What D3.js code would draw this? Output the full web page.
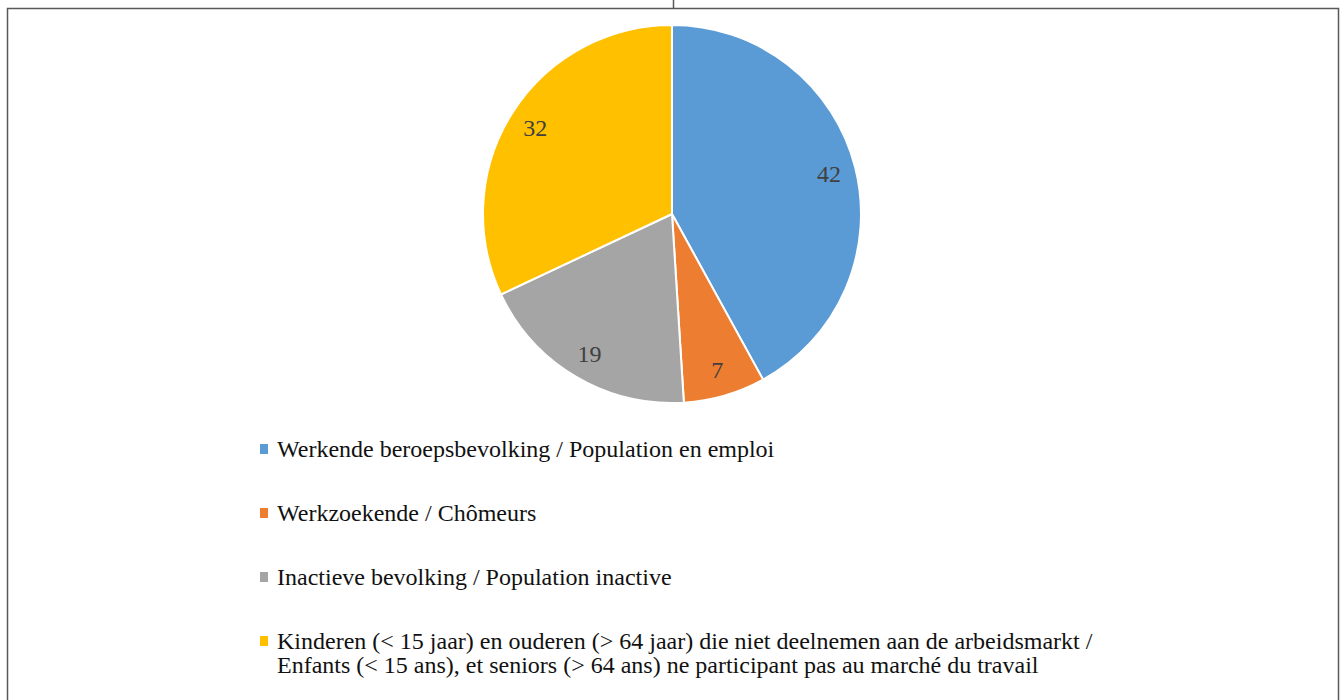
<!DOCTYPE html>
<html>
<head>
<meta charset="utf-8">
<script src="https://cdn.jsdelivr.net/npm/d3@7"></script>
<style>
  body { margin: 0; background: #fff; }
  svg { display: block; }
</style>
</head>
<body>
<div id="chart"></div>
<script>
// data
const categories = [
  'Werkende beroepsbevolking / Population en emploi',
  'Werkzoekende / Chômeurs',
  'Inactieve bevolking / Population inactive',
  'Kinderen (< 15 jaar) en ouderen (> 64 jaar) die niet deelnemen aan de arbeidsmarkt /'
];
const secondLines = ['', '', '', 'Enfants (< 15 ans), et seniors (> 64 ans) ne participant pas au marché du travail'];
const values = [42, 7, 19, 32];
const colors = ['#5b9bd5', '#ed7d31', '#a5a5a5', '#ffc000'];

const W = 1340, H = 700;
const CX = 672, CY = 214, R = 189, LABEL_R = 162;

const svg = d3.select('#chart').append('svg')
  .attr('width', W)
  .attr('height', H);

// outer frame (bottom edge runs off the page)
svg.append('path')
  .attr('d', `M7.5,${H + 5} V8.5 H1338.5 V${H + 5}`)
  .attr('fill', 'none')
  .attr('stroke', '#595959')
  .attr('stroke-width', 1.5);
svg.append('line')
  .attr('x1', 673.5).attr('x2', 673.5)
  .attr('y1', 0).attr('y2', 8)
  .attr('stroke', '#595959')
  .attr('stroke-width', 1.5);

const data = categories.map((c, i) => ({name: c, value: values[i], color: colors[i]}));

const pie = d3.pie().sort(null).value(d => d.value);
const arc = d3.arc().innerRadius(0).outerRadius(R);
const labelArc = d3.arc().innerRadius(LABEL_R).outerRadius(LABEL_R);

const g = svg.append('g').attr('transform', `translate(${CX},${CY})`);

g.selectAll('path.slice')
  .data(pie(data))
  .join('path')
  .attr('class', 'slice')
  .attr('d', arc)
  .attr('fill', d => d.data.color)
  .attr('stroke', '#fff')
  .attr('stroke-width', 2);

g.selectAll('text.val')
  .data(pie(data))
  .join('text')
  .attr('class', 'val')
  .attr('transform', d => `translate(${labelArc.centroid(d)})`)
  .attr('text-anchor', 'middle')
  .attr('dy', '0.35em')
  .attr('font-family', '"Liberation Serif", "Times New Roman", serif')
  .attr('font-size', 24)
  .attr('fill', '#404040')
  .text(d => d.data.value);

// legend
const legendY = d3.scalePoint()
  .domain(categories)
  .range([449, 641]);

const legend = svg.append('g');
const item = legend.selectAll('g')
  .data(data)
  .join('g')
  .attr('transform', d => `translate(260,${legendY(d.name)})`);

item.append('rect')
  .attr('x', 0).attr('y', -5)
  .attr('width', 8).attr('height', 10)
  .attr('fill', d => d.color);

const txt = item.append('text')
  .attr('x', 17)
  .attr('font-family', '"Liberation Serif", "Times New Roman", serif')
  .attr('font-size', 24)
  .attr('fill', '#111');

txt.append('tspan')
  .attr('x', 17)
  .attr('dy', '0.33em')
  .text(d => d.name);
txt.filter((d, i) => secondLines[i])
  .append('tspan')
  .attr('x', 17)
  .attr('dy', 24)
  .text((d, i) => secondLines[3]);
</script>
</body>
</html>
